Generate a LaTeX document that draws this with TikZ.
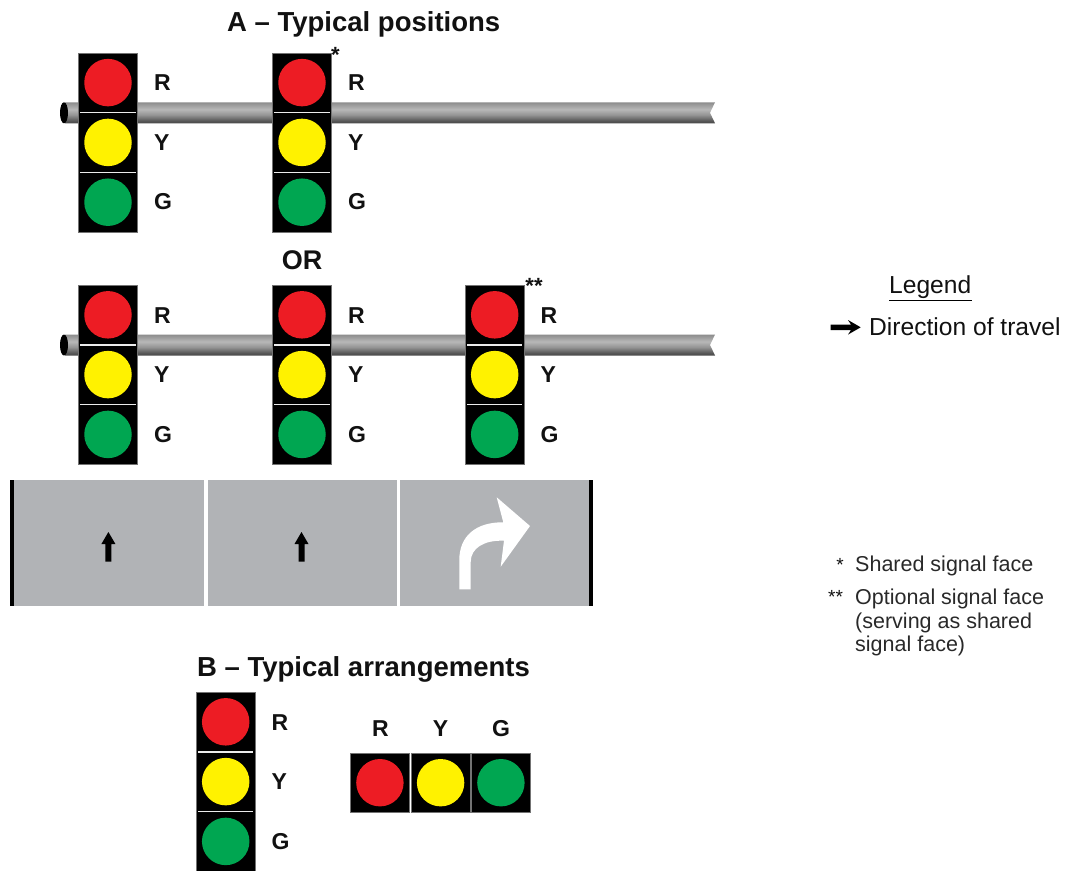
\documentclass[tikz,border=0pt]{standalone}
\usepackage{fontspec}
\setmainfont{Liberation Sans}
\usetikzlibrary{shapes.geometric}
\definecolor{sigred}{HTML}{ED1C24}
\definecolor{sigyel}{HTML}{FFF200}
\definecolor{siggrn}{HTML}{00A651}
\definecolor{road}{HTML}{B1B3B6}
\definecolor{ink}{HTML}{111111}
\pgfdeclareverticalshading{polegrad}{100bp}{%
  color(0bp)=(black!72);
  color(25bp)=(black!72);
  color(31bp)=(black!66);
  color(45bp)=(black!42);
  color(58bp)=(black!28);
  color(70bp)=(black!40);
  color(75bp)=(black!45);
  color(100bp)=(black!45)}
\tikzset{
  lamp/.style={circle,inner sep=0pt,minimum size=47.5pt,fill=#1},
  housing/.style={fill=black,draw=black!55,line width=0.3pt},
  sep/.style={draw=white!92!black,line width=1.5pt},
  lab/.style={inner sep=0pt,anchor=base west,text=ink,font=\fontsize{23}{23}\selectfont\bfseries},
  labc/.style={inner sep=0pt,anchor=base,text=ink,font=\fontsize{23}{23}\selectfont\bfseries},
  title/.style={inner sep=0pt,anchor=base west,text=ink,font=\fontsize{27.5}{27.5}\selectfont\bfseries},
  orlab/.style={inner sep=0pt,anchor=base,text=ink,font=\fontsize{27}{27}\selectfont\bfseries},
  star/.style={inner sep=0pt,anchor=center,text=ink,font=\fontsize{22}{22}\selectfont\bfseries},
  notestar/.style={inner sep=0pt,anchor=center,text=ink,font=\fontsize{19}{19}\selectfont},
  legendtext/.style={inner sep=0pt,anchor=base west,text=ink,font=\fontsize{24.6}{24.6}\selectfont},
  note/.style={inner sep=0pt,anchor=base west,text=ink!90!white,font=\fontsize{21.5}{21.5}\selectfont},
  polebody/.style={shading=polegrad,draw=none},
  lane/.style={draw=white,line width=3.4pt},
  edge/.style={draw=black,line width=4pt},
}
% vertical head: name, left x, top y
\newcommand{\sighead}[3]{%
  \begin{scope}[shift={(#2,#3)}]
    \path[housing] (0,0) rectangle (59.3,179);
    \node[lamp=sigred] (#1r) at (29.7,29.8) {};
    \node[lamp=sigyel] (#1y) at (29.7,89.6) {};
    \node[lamp=siggrn] (#1g) at (29.7,149.4) {};
    \draw[sep] (2,59.8) -- (57.3,59.8);
    \draw[sep] (2,119.6) -- (57.3,119.6);
    \node[lab] (#1lr) at (75.5,38) {R};
    \node[lab] (#1ly) at (75.5,97.5) {Y};
    \node[lab] (#1lg) at (75.5,157) {G};
  \end{scope}}
% pole: name, top y
\newcommand{\signpole}[2]{%
  \begin{scope}[shift={(0,#2)}]
    \path[polebody] (65,0) -- (715,0) -- (710,10.5) -- (715,21) -- (65,21) -- cycle;
    \node[ellipse,fill=black,inner sep=0pt,minimum width=8pt,minimum height=21pt] (#1) at (64,10.5) {};
  \end{scope}}
\begin{document}
\begin{tikzpicture}[x=1pt,y=-1pt]
\useasboundingbox (0,0) rectangle (1073,870);
\node[title] (ta) at (227,31) {A – Typical positions};
\signpole{pa}{102.3}
\sighead{a}{78.3}{52.8}
\sighead{b}{272.3}{52.8}
\node[star] (s1) at (335.5,54.5) {*};
\node[orlab] (or) at (302,269) {OR};
\signpole{pb}{334.5}
\sighead{c}{78.3}{285}
\sighead{d}{272.3}{285}
\sighead{e}{465}{285}
\node[star] (s2) at (534,285.5) {**};
% road
\path[fill=road] (10,479.5) rectangle (593,606);
\draw[edge] (12,480) -- (12,606);
\draw[edge] (591.3,480) -- (591.3,606);
\draw[lane] (205.8,480) -- (205.8,605.5);
\draw[lane] (398.4,480) -- (398.4,605.5);
\foreach \c in {108.4,301.5}{
  \path[fill=black] (\c-3,561.5) -- (\c-3,544) -- (\c-7,544) -- (\c,532) -- (\c+7,544) -- (\c+3,544) -- (\c+3,561.5) -- cycle;
}
\path[fill=white] (459.3,589.3) -- (459.3,560) .. controls (459.3,536) and (476,522) .. (503.3,522.3) -- (496.7,497.3) -- (530,526) -- (500.7,566.7) -- (504,540.7) .. controls (484,540) and (470.7,548) .. (470.7,562) -- (470.7,589.3) -- cycle;
\node[title] (tb) at (197,676) {B – Typical arrangements};
\sighead{f}{196}{692}
\foreach \x/\c in {350.3/sigred,411/sigyel,471.3/siggrn}{
  \path[housing] (\x,752.8) rectangle (\x+59,812.5);
  \path[fill=\c] (\x+29.6,782.7) circle (23.7);
}
\node[labc] (hr) at (380.5,736) {R};
\node[labc] (hy) at (440.5,736) {Y};
\node[labc] (hg) at (501,736) {G};
% legend
\node[legendtext] (lg) at (889,293) {Legend};
\coordinate (u1) at (889,300.3);
\coordinate (u2) at (972,300.3);
\draw[black,line width=1.2pt] (u1) -- (u2);
\path[fill=black] (830.7,324.6) -- (851,324.6) -- (848,320) -- (860.7,327.3) -- (848,334.6) -- (851,330) -- (830.7,330) -- cycle;
\node[legendtext] (dt) at (869,335) {Direction of travel};
\node[notestar] (n1s) at (840,564.5) {*};
\node[note] (n1) at (855,571.5) {Shared signal face};
\node[notestar] (n2s) at (835.5,596.5) {**};
\node[note] (n2) at (855,604.5) {Optional signal face};
\node[note] (n3) at (855,628) {(serving as shared};
\node[note] (n4) at (855,651.5) {signal face)};
\end{tikzpicture}
\end{document}
